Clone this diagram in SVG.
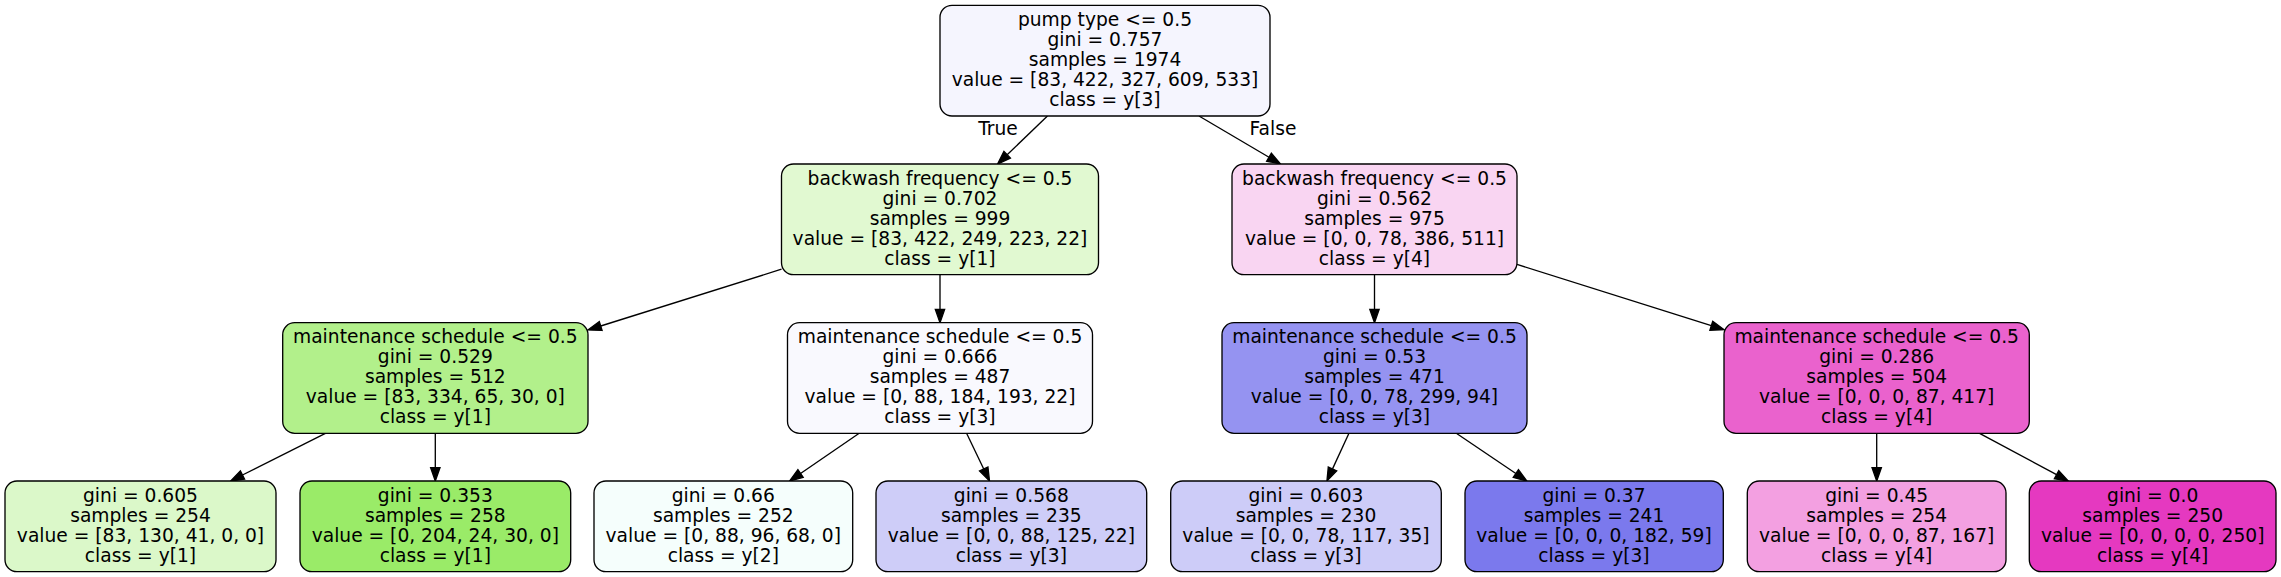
<svg xmlns="http://www.w3.org/2000/svg" width="2281" height="577" viewBox="0 0 2281 577">
<style>
.n rect{stroke:#000;stroke-width:1.33}
text{font-family:"DejaVu Sans","Liberation Sans",sans-serif;font-size:18.67px;fill:#000;text-anchor:middle}
.e line{stroke:#000;stroke-width:1.33;fill:none;marker-end:url(#ah)}
</style>
<defs>
<marker id="ah" markerUnits="userSpaceOnUse" markerWidth="16" markerHeight="12" viewBox="0 -6 15 12" refX="0" refY="0" orient="auto" overflow="visible">
<path d="M0,-4.67 L13.33,0 L0,4.67 Z" fill="#000" stroke="#000" stroke-width="1.33"/>
</marker>
</defs>
<rect width="2281" height="577" fill="#fff"/>
<g class="e" id="edges">
<line x1="1047.45" y1="116" x2="1007.16" y2="154.76"/>
<line x1="1199" y1="116" x2="1269" y2="157.24"/>
<line x1="781.5" y1="269.2" x2="600.72" y2="326"/>
<line x1="940" y1="274.7" x2="940" y2="309.37"/>
<line x1="1374.5" y1="274.7" x2="1374.5" y2="309.37"/>
<line x1="1517" y1="264.37" x2="1711.29" y2="325.74"/>
<line x1="325.4" y1="433.3" x2="242.5" y2="475"/>
<line x1="435.3" y1="433.3" x2="435.3" y2="467.67"/>
<line x1="859.2" y1="433.3" x2="800.55" y2="473.47"/>
<line x1="966.58" y1="433.3" x2="983.73" y2="468.99"/>
<line x1="1348.96" y1="433.3" x2="1332.53" y2="468.9"/>
<line x1="1456.3" y1="433.3" x2="1515.85" y2="473.54"/>
<line x1="1876.7" y1="433.3" x2="1876.7" y2="467.67"/>
<line x1="1979.6" y1="433.3" x2="2056.56" y2="474.69"/>
<text x="998" y="135">True</text>
<text x="1273" y="135">False</text>
</g>
<g class="n" id="node0">
<rect x="940" y="5.3" width="330" height="110.7" rx="12" fill="#f5f5fe"/>
<text x="1105" y="25.95">pump type &lt;= 0.5</text>
<text x="1105" y="45.95">gini = 0.757</text>
<text x="1105" y="65.95">samples = 1974</text>
<text x="1105" y="85.95">value = [83, 422, 327, 609, 533]</text>
<text x="1105" y="105.95">class = y[3]</text>
</g>
<g class="n" id="node1">
<rect x="781.5" y="164" width="317" height="110.7" rx="12" fill="#e1f9d1"/>
<text x="940" y="184.65">backwash frequency &lt;= 0.5</text>
<text x="940" y="204.65">gini = 0.702</text>
<text x="940" y="224.65">samples = 999</text>
<text x="940" y="244.65">value = [83, 422, 249, 223, 22]</text>
<text x="940" y="264.65">class = y[1]</text>
</g>
<g class="n" id="node2">
<rect x="282.7" y="322.7" width="305.3" height="110.6" rx="12" fill="#b2f08b"/>
<text x="435.3" y="343.3">maintenance schedule &lt;= 0.5</text>
<text x="435.3" y="363.3">gini = 0.529</text>
<text x="435.3" y="383.3">samples = 512</text>
<text x="435.3" y="403.3">value = [83, 334, 65, 30, 0]</text>
<text x="435.3" y="423.3">class = y[1]</text>
</g>
<g class="n" id="node3">
<rect x="5" y="481" width="271" height="90.7" rx="12" fill="#dbf8c9"/>
<text x="140.5" y="501.65">gini = 0.605</text>
<text x="140.5" y="521.65">samples = 254</text>
<text x="140.5" y="541.65">value = [83, 130, 41, 0, 0]</text>
<text x="140.5" y="561.65">class = y[1]</text>
</g>
<g class="n" id="node4">
<rect x="300" y="481" width="270.7" height="90.7" rx="12" fill="#9aeb68"/>
<text x="435.3" y="501.65">gini = 0.353</text>
<text x="435.3" y="521.65">samples = 258</text>
<text x="435.3" y="541.65">value = [0, 204, 24, 30, 0]</text>
<text x="435.3" y="561.65">class = y[1]</text>
</g>
<g class="n" id="node5">
<rect x="787.5" y="322.7" width="305" height="110.6" rx="12" fill="#f9f9fe"/>
<text x="940" y="343.3">maintenance schedule &lt;= 0.5</text>
<text x="940" y="363.3">gini = 0.666</text>
<text x="940" y="383.3">samples = 487</text>
<text x="940" y="403.3">value = [0, 88, 184, 193, 22]</text>
<text x="940" y="423.3">class = y[3]</text>
</g>
<g class="n" id="node6">
<rect x="594" y="481" width="258.7" height="90.7" rx="12" fill="#f5fefc"/>
<text x="723.3" y="501.65">gini = 0.66</text>
<text x="723.3" y="521.65">samples = 252</text>
<text x="723.3" y="541.65">value = [0, 88, 96, 68, 0]</text>
<text x="723.3" y="561.65">class = y[2]</text>
</g>
<g class="n" id="node7">
<rect x="876" y="481" width="270.7" height="90.7" rx="12" fill="#cecdf8"/>
<text x="1011.3" y="501.65">gini = 0.568</text>
<text x="1011.3" y="521.65">samples = 235</text>
<text x="1011.3" y="541.65">value = [0, 0, 88, 125, 22]</text>
<text x="1011.3" y="561.65">class = y[3]</text>
</g>
<g class="n" id="node8">
<rect x="1232" y="164" width="285" height="110.7" rx="12" fill="#f9d5f2"/>
<text x="1374.5" y="184.65">backwash frequency &lt;= 0.5</text>
<text x="1374.5" y="204.65">gini = 0.562</text>
<text x="1374.5" y="224.65">samples = 975</text>
<text x="1374.5" y="244.65">value = [0, 0, 78, 386, 511]</text>
<text x="1374.5" y="264.65">class = y[4]</text>
</g>
<g class="n" id="node9">
<rect x="1222" y="322.7" width="305" height="110.6" rx="12" fill="#9593f1"/>
<text x="1374.5" y="343.3">maintenance schedule &lt;= 0.5</text>
<text x="1374.5" y="363.3">gini = 0.53</text>
<text x="1374.5" y="383.3">samples = 471</text>
<text x="1374.5" y="403.3">value = [0, 0, 78, 299, 94]</text>
<text x="1374.5" y="423.3">class = y[3]</text>
</g>
<g class="n" id="node10">
<rect x="1170.7" y="481" width="270.6" height="90.7" rx="12" fill="#cdccf8"/>
<text x="1306" y="501.65">gini = 0.603</text>
<text x="1306" y="521.65">samples = 230</text>
<text x="1306" y="541.65">value = [0, 0, 78, 117, 35]</text>
<text x="1306" y="561.65">class = y[3]</text>
</g>
<g class="n" id="node11">
<rect x="1465" y="481" width="258.3" height="90.7" rx="12" fill="#7b79ed"/>
<text x="1594" y="501.65">gini = 0.37</text>
<text x="1594" y="521.65">samples = 241</text>
<text x="1594" y="541.65">value = [0, 0, 0, 182, 59]</text>
<text x="1594" y="561.65">class = y[3]</text>
</g>
<g class="n" id="node12">
<rect x="1724" y="322.7" width="305.3" height="110.6" rx="12" fill="#ea62cd"/>
<text x="1876.7" y="343.3">maintenance schedule &lt;= 0.5</text>
<text x="1876.7" y="363.3">gini = 0.286</text>
<text x="1876.7" y="383.3">samples = 504</text>
<text x="1876.7" y="403.3">value = [0, 0, 0, 87, 417]</text>
<text x="1876.7" y="423.3">class = y[4]</text>
</g>
<g class="n" id="node13">
<rect x="1747.3" y="481" width="258.7" height="90.7" rx="12" fill="#f3a0e1"/>
<text x="1876.7" y="501.65">gini = 0.45</text>
<text x="1876.7" y="521.65">samples = 254</text>
<text x="1876.7" y="541.65">value = [0, 0, 0, 87, 167]</text>
<text x="1876.7" y="561.65">class = y[4]</text>
</g>
<g class="n" id="node14">
<rect x="2029.3" y="481" width="246.7" height="90.7" rx="12" fill="#e539c0"/>
<text x="2152.7" y="501.65">gini = 0.0</text>
<text x="2152.7" y="521.65">samples = 250</text>
<text x="2152.7" y="541.65">value = [0, 0, 0, 0, 250]</text>
<text x="2152.7" y="561.65">class = y[4]</text>
</g>
</svg>
